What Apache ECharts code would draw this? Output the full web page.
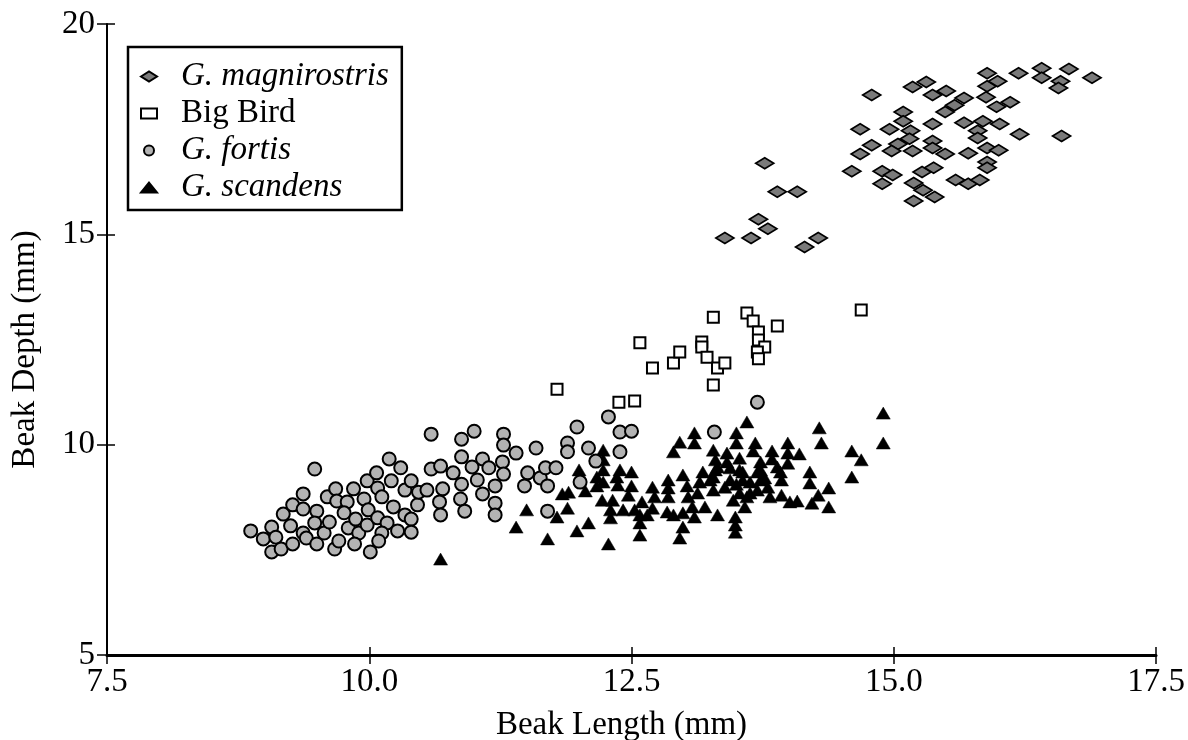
<!DOCTYPE html>
<html>
<head>
<meta charset="utf-8">
<script src="https://cdn.jsdelivr.net/npm/echarts@6/dist/echarts.min.js"></script>
<style>
html,body{margin:0;padding:0;background:#fff;}
#chart{width:1188px;height:740px;}
</style>
</head>
<body>
<div id="chart"></div>
<script>
// ---- data (beak length mm, beak depth mm) ----
const seriesNames = ['G. magnirostris', 'Big Bird', 'G. fortis', 'G. scandens'];
const xTicks = [7.5, 10.0, 12.5, 15.0, 17.5];
const yTicks = [5, 10, 15, 20];

const magnirostrisData = [
[13.39,14.91],[13.64,14.91],[13.71,15.36],[13.80,15.13],[13.77,16.69],[13.89,16.01],[14.08,16.01],[14.15,14.70],[14.28,14.91],
[14.60,16.50],[14.79,18.31],[14.68,17.50],[14.79,17.12],[14.68,16.91],[14.89,16.50],[14.99,16.41],[14.89,16.20],[14.96,17.50],
[15.09,17.91],[15.09,17.69],[15.18,18.50],[15.31,18.62],[15.16,17.46],[15.15,17.27],[15.04,17.15],[14.98,16.98],[15.18,16.98],
[15.27,16.48],[15.38,16.58],[15.19,16.22],[15.28,16.05],[15.19,15.79],[15.39,15.89],[15.37,17.62],[15.37,17.22],[15.37,17.05],
[15.49,16.91],[15.37,18.31],[15.50,18.41],[15.49,17.91],[15.59,16.29],[15.71,16.20],[15.82,16.29],[15.71,16.93],[15.67,17.65],
[15.58,18.07],[15.67,18.24],[15.80,17.46],[15.80,17.29],[15.85,17.69],[15.88,18.26],[15.89,18.52],[15.89,18.83],[15.99,18.64],
[15.89,17.05],[16.00,17.00],[15.89,16.72],[15.89,16.58],[16.01,17.62],[15.98,18.03],[16.11,18.14],[16.20,17.38],[16.19,18.83],
[16.41,18.95],[16.41,18.72],[16.59,18.64],[16.57,18.48],[16.67,18.93],[16.89,18.72],[16.60,17.34]
];

const bigBirdData = [
[11.79,11.32],[12.58,12.42],[12.70,11.82],[12.90,11.94],[12.96,12.20],[12.38,11.01],[12.53,11.04],[13.28,13.03],
[13.17,12.44],[13.17,12.32],[13.22,12.08],[13.32,11.82],[13.39,11.94],[13.28,11.42],[13.60,13.13],[13.66,12.94],
[13.71,12.68],[13.71,12.49],[13.77,12.32],[13.70,12.20],[13.71,12.04],[13.89,12.82],[14.69,13.20]
];

const fortisData = [
[9.48,9.42],[8.87,7.95],[8.99,7.76],[9.07,8.04],[9.11,7.80],[9.07,7.45],[9.16,7.52],[9.18,8.35],[9.25,8.07],[9.27,8.57],
[9.37,8.83],[9.37,8.47],[9.27,7.64],[9.37,7.90],[9.40,7.78],[9.50,8.42],[9.48,8.14],[9.50,7.64],[9.57,7.90],[9.62,8.16],
[9.60,8.76],[9.68,8.95],[9.69,8.66],[9.79,8.64],[9.76,8.38],[9.85,8.95],[9.67,7.52],[9.71,7.71],[9.80,8.02],[9.87,8.23],
[9.90,7.90],[9.86,7.64],[9.95,8.71],[9.99,8.45],[9.98,8.09],[9.98,9.14],[10.07,9.33],[10.08,8.97],[10.12,8.76],[10.08,8.26],
[10.17,8.14],[10.12,7.90],[10.09,7.71],[10.01,7.45],[10.19,9.66],[10.30,9.45],[10.21,9.14],[10.23,8.52],[10.27,7.95],[10.34,8.92],
[10.40,9.14],[10.34,8.33],[10.40,8.23],[10.40,7.92],[10.46,8.57],[10.47,8.87],[10.55,8.92],[10.59,9.42],[10.59,10.25],[10.68,9.49],
[10.70,8.95],[10.67,8.64],[10.68,8.33],[10.80,9.33],[10.88,10.13],[11.00,10.32],[10.88,9.71],[10.88,9.06],[10.87,8.71],[10.91,8.42],
[10.98,9.47],[11.03,9.16],[11.08,9.66],[11.14,9.45],[11.08,8.83],[11.20,9.02],[11.20,8.61],[11.20,8.33],[11.27,9.59],[11.28,9.30],
[11.28,10.25],[11.28,9.99],[11.40,9.80],[11.59,9.92],[11.51,9.33],[11.48,9.02],[11.63,9.21],[11.68,9.45],[11.70,9.02],[11.70,8.42],
[11.78,9.45],[11.89,10.04],[11.89,9.83],[11.98,10.42],[12.09,9.92],[12.16,9.61],[12.01,9.11],[12.28,10.66],[12.39,10.30],[12.50,10.32],
[12.39,9.83],[13.29,10.30],[13.70,11.01]
];

const scandensData = [
[10.68,7.28],[11.40,8.04],[11.50,8.45],[11.70,7.76],[11.79,8.28],[11.84,8.83],[11.90,8.87],[11.89,8.49],[11.98,7.95],[12.00,9.40],
[12.06,8.90],[12.09,8.14],[12.17,9.23],[12.17,9.02],[12.23,9.87],[12.23,9.64],[12.23,9.40],[12.23,9.11],[12.28,7.64],[12.22,8.68],
[12.39,9.40],[12.50,9.35],[12.36,9.23],[12.50,9.02],[12.37,9.04],[12.47,8.80],[12.32,8.68],[12.30,8.45],[12.42,8.45],[12.53,8.45],
[12.60,8.64],[12.58,8.33],[12.58,8.14],[12.58,7.85],[12.30,8.26],[12.70,8.99],[12.72,8.76],[12.70,8.49],[12.65,8.33],[12.85,9.16],
[12.85,8.97],[12.85,8.76],[12.84,8.40],[12.99,9.28],[13.03,9.02],[13.04,8.76],[13.08,8.52],[12.99,8.38],[12.90,8.33],[12.99,8.04],
[12.96,7.78],[13.13,8.85],[13.20,8.52],[13.10,8.28],[13.18,9.35],[13.25,9.16],[13.15,9.11],[13.30,9.40],[13.30,9.64],[13.41,9.59],
[13.53,9.40],[13.44,9.16],[13.56,9.16],[13.39,8.99],[13.28,8.92],[13.32,8.33],[13.47,8.68],[13.60,8.76],[13.49,8.28],[13.49,8.09],
[13.49,7.92],[13.58,8.52],[13.70,8.92],[13.70,9.35],[13.60,10.54],[13.10,10.28],[13.10,10.04],[12.96,10.06],[12.90,9.83],[13.50,10.28],
[13.50,10.04],[13.28,9.87],[13.41,9.80],[13.53,9.68],[13.68,10.04],[13.66,9.85],[14.90,10.75],[14.90,10.04],[14.29,10.40],[14.31,10.04],
[14.60,9.85],[14.69,9.64],[14.60,9.23],[13.99,10.04],[14.10,9.78],[13.84,9.85],[13.99,9.80],[13.99,9.56],[13.84,9.66],[13.89,9.47],
[13.73,9.59],[13.56,9.35],[13.92,9.35],[13.93,9.16],[14.20,9.35],[14.20,9.09],[14.38,8.97],[14.28,8.80],[14.22,8.61],[14.38,8.52],
[14.01,8.64],[14.08,8.66],[13.93,8.80],[13.82,8.76],[13.80,8.99],[13.63,9.11],[13.63,8.85],[13.73,9.16],[13.32,9.47],[13.44,9.45],
[13.73,9.40],[13.28,9.23],[13.77,9.21],[13.50,9.06],[13.53,8.85]
];

const FONT = 'Liberation Serif, Times New Roman, serif';
const FS = 33;

const chart = echarts.init(document.getElementById('chart'));
chart.setOption({
  animation: false,
  backgroundColor: '#fff',
  grid: { left: 107, right: 32, top: 24, bottom: 85, containLabel: false, outerBoundsMode: 'none' },
  legend: {
    orient: 'vertical',
    left: 128, top: 47,
    data: [
      { name: 'G. magnirostris', icon: 'path://M0,5L8,0L16,5L8,10Z' },
      { name: 'Big Bird' },
      { name: 'G. fortis' },
      { name: 'G. scandens' }
    ],
    itemWidth: 16, itemHeight: 10, itemGap: 4,
    padding: [13, 13, 6, 12],
    borderColor: '#000', borderWidth: 2.5, borderRadius: 0,
    backgroundColor: '#fff',
    selectedMode: false,
    formatter: function (name) {
      return name === 'Big Bird' ? '{n|' + name + '}' : '{i|' + name + '}';
    },
    textStyle: {
      fontFamily: FONT, fontSize: FS, color: '#000', padding: [0, 0, 0, 19],
      rich: {
        i: { fontFamily: FONT, fontSize: FS, fontStyle: 'italic', lineHeight: 33, color: '#000' },
        n: { fontFamily: FONT, fontSize: FS, lineHeight: 33, color: '#000' }
      }
    }
  },
  xAxis: [
    {
      type: 'value', min: 7.5, max: 17.5, interval: 2.5,
      name: 'Beak Length (mm)', nameLocation: 'middle', nameGap: 54,
      nameTextStyle: { fontFamily: FONT, fontSize: FS, color: '#000', padding: [0, 20, 0, 0] },
      axisLine: { show: true, onZero: false, lineStyle: { color: '#000', width: 3 } },
      axisTick: { show: true, length: 9, lineStyle: { color: '#000', width: 1.5 } },
      axisLabel: { margin: 11, fontFamily: FONT, fontSize: FS, color: '#000',
        formatter: function (v) { return v.toFixed(1); } },
      splitLine: { show: false }
    },
    {
      type: 'value', min: 7.5, max: 17.5, interval: 2.5, position: 'bottom',
      axisLine: { show: false },
      axisTick: { show: true, inside: true, length: 8, lineStyle: { color: '#000', width: 1.5 } },
      axisLabel: { show: false },
      splitLine: { show: false }
    }
  ],
  yAxis: [
    {
      type: 'value', min: 5, max: 20, interval: 5,
      name: 'Beak Depth (mm)', nameLocation: 'middle', nameGap: 65,
      nameTextStyle: { fontFamily: FONT, fontSize: FS, color: '#000', padding: [0, 20, 0, 0] },
      axisLine: { show: true, onZero: false, lineStyle: { color: '#000', width: 2 } },
      axisTick: { show: true, length: 10, lineStyle: { color: '#000', width: 1.5 } },
      axisLabel: { margin: 12, fontFamily: FONT, fontSize: FS, color: '#000' },
      splitLine: { show: false }
    },
    {
      type: 'value', min: 5, max: 20, interval: 5, position: 'left',
      axisLine: { show: false },
      axisTick: { show: true, inside: true, length: 8, lineStyle: { color: '#000', width: 1.5 } },
      axisLabel: { show: false },
      splitLine: { show: false }
    }
  ],
  series: [
    {
      name: 'G. scandens', type: 'scatter', data: scandensData,
      symbol: 'triangle', symbolSize: [14, 12],
      itemStyle: { color: '#000', borderColor: '#000', borderWidth: 0.5, opacity: 1 }
    },
    {
      name: 'G. fortis', type: 'scatter', data: fortisData,
      symbol: 'circle', symbolSize: 13,
      itemStyle: { color: '#b3b3b3', borderColor: '#000', borderWidth: 2, opacity: 1 }
    },
    {
      name: 'Big Bird', type: 'scatter', data: bigBirdData,
      symbol: 'rect', symbolSize: 11,
      itemStyle: { color: '#fff', borderColor: '#000', borderWidth: 2, opacity: 1 }
    },
    {
      name: 'G. magnirostris', type: 'scatter', data: magnirostrisData,
      symbol: 'diamond', symbolSize: [18, 11],
      itemStyle: { color: '#7a7a7a', borderColor: '#000', borderWidth: 1.8, opacity: 1 }
    }
  ]
});
</script>
</body>
</html>
